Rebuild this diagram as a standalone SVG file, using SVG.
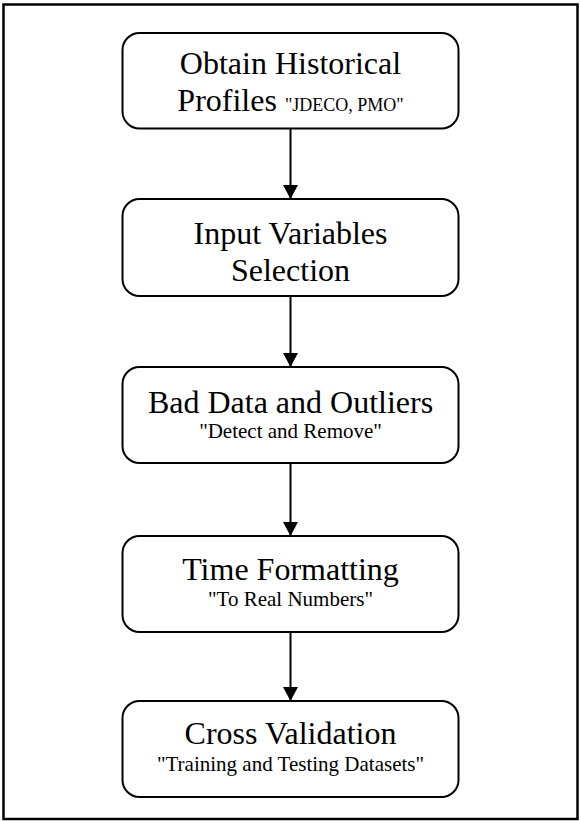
<svg xmlns="http://www.w3.org/2000/svg" width="581" height="821" viewBox="0 0 581 821">
<style>
.box{fill:#fff;stroke:#000;stroke-width:2}
.t{font-family:"Liberation Serif","Times New Roman",serif;fill:#000;text-anchor:middle}
.big{font-size:32px}
.sub{font-size:21px}
.sm{font-size:18px}
.conn{stroke:#000;stroke-width:2;fill:none}
</style>
<defs>
<marker id="ah" markerUnits="userSpaceOnUse" markerWidth="16" markerHeight="15" refX="14" refY="7.5" orient="auto">
<path d="M0,0 L14,7.5 L0,15 Z" fill="#000"/>
</marker>
</defs>
<rect x="3.5" y="4.5" width="574" height="814.5" fill="#fff" stroke="#000" stroke-width="2.5"/>
<g id="connectors">
<line class="conn" x1="290.5" y1="128" x2="290.5" y2="199" marker-end="url(#ah)"/>
<line class="conn" x1="290.5" y1="296" x2="290.5" y2="367" marker-end="url(#ah)"/>
<line class="conn" x1="290.5" y1="463" x2="290.5" y2="536" marker-end="url(#ah)"/>
<line class="conn" x1="290.5" y1="628" x2="290.5" y2="701" marker-end="url(#ah)"/>
</g>
<g id="n1">
<rect class="box" x="122.5" y="33" width="336" height="95.5" rx="17"/>
<text class="t big" x="290.5" y="74">Obtain Historical</text>
<text class="t" x="290.5" y="110.5"><tspan class="big">Profiles </tspan><tspan class="sm">"JDECO, PMO"</tspan></text>
</g>
<g id="n2">
<rect class="box" x="122.5" y="199" width="336" height="97" rx="17"/>
<text class="t big" x="290.5" y="244">Input Variables</text>
<text class="t big" x="290.5" y="280.5">Selection</text>
</g>
<g id="n3">
<rect class="box" x="122.5" y="367" width="336" height="96" rx="17"/>
<text class="t big" x="290.5" y="413">Bad Data and Outliers</text>
<text class="t sub" x="290.5" y="437.5">"Detect and Remove"</text>
</g>
<g id="n4">
<rect class="box" x="122.5" y="536" width="336" height="96" rx="17"/>
<text class="t big" x="290.5" y="580">Time Formatting</text>
<text class="t sub" x="290.5" y="605.5">"To Real Numbers"</text>
</g>
<g id="n5">
<rect class="box" x="122.5" y="701" width="336" height="96" rx="17"/>
<text class="t big" x="290.5" y="744">Cross Validation</text>
<text class="t sub" x="290.5" y="771">"Training and Testing Datasets"</text>
</g>
</svg>
